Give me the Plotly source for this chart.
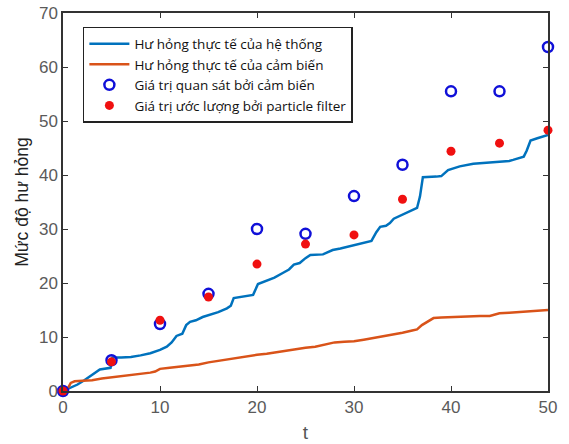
import plotly.graph_objects as go

# System true damage (blue line)
sys_t = [0, 0.7, 1.5, 2.2, 2.8, 3.3, 3.8, 4.9, 5.1, 6, 7, 8, 9, 10, 10.7, 11.2, 11.7, 12.3, 12.7, 13.1,
         13.7, 14.4, 15.2, 16, 16.9, 17.3, 17.6, 18.5, 19.6, 20.1, 21, 21.8, 22.7, 23.3, 23.8, 24.4, 25.0,
         25.5, 26.8, 27.2, 27.8, 28.6, 29.6, 30.4, 31.3, 31.8, 32.3, 32.7, 33.3, 33.7, 34.1, 34.6, 35.5,
         36.0, 36.5, 36.8, 37.1, 38.5, 39.0, 39.7, 40.3, 40.9, 42.3, 44, 46, 46.4, 47.0, 47.5, 47.8, 48.2,
         48.9, 50]
sys_v = [0, 0.5, 1.2, 2.0, 2.8, 3.5, 4.0, 4.3, 6.2, 6.2, 6.3, 6.6, 7.0, 7.6, 8.2, 9.0, 10.2, 10.6, 12.2, 12.8,
         13.1, 13.7, 14.1, 14.6, 15.3, 15.8, 17.2, 17.5, 17.8, 19.8, 20.5, 21.0, 21.9, 22.5, 23.4, 23.7, 24.6,
         25.2, 25.3, 25.6, 26.1, 26.4, 26.8, 27.2, 27.6, 27.8, 29.4, 30.4, 30.6, 31.1, 31.9, 32.3, 33.0,
         33.4, 33.9, 36.0, 39.6, 39.7, 39.8, 40.9, 41.2, 41.6, 42.1, 42.3, 42.6, 42.8, 43.2, 43.4, 44.5, 46.4,
         46.8, 47.4]

# Sensor true damage (orange line)
sen_t = [0, 0.5, 0.8, 1.2, 2, 3, 4, 5, 6, 7, 8, 9, 9.5, 10, 11, 12, 13, 14, 15, 16, 17, 18, 19, 20, 21, 22,
         23, 24, 25, 26, 27, 28, 29, 30, 31, 32, 33, 34, 35, 36, 36.5, 37, 37.5, 38.2, 39, 40, 41, 42, 43, 44,
         44.5, 45, 46, 47, 48, 49, 50]
sen_v = [0, 0.5, 1.5, 1.8, 1.9, 2.0, 2.3, 2.5, 2.8, 3.0, 3.2, 3.4, 3.6, 4.1, 4.3, 4.5, 4.7, 4.9, 5.3, 5.6, 5.8,
         6.1, 6.4, 6.7, 6.9, 7.2, 7.5, 7.7, 8.0, 8.2, 8.6, 9.0, 9.1, 9.2, 9.5, 9.8, 10.2, 10.5, 10.8, 11.2, 11.4,
         12.2, 12.7, 13.5, 13.6, 13.7, 13.8, 13.85, 13.9, 13.9, 14.2, 14.4, 14.5, 14.6, 14.75, 14.9, 15.0]

# Observations and estimates
obs_t = [0, 5, 10, 15, 20, 25, 30, 35, 40, 45, 50]
obs_v = [0, 5.7, 12.4, 18.0, 30.0, 29.1, 36.1, 41.9, 55.5, 55.5, 63.7]
est_v = [0, 5.4, 13.1, 17.4, 23.5, 27.2, 28.9, 35.5, 44.4, 45.9, 48.3]

names = ["Hư hỏng thực tế của hệ thống", "Hư hỏng thực tế của cảm biến",
         "Giá trị quan sát bởi cảm biến", "Giá trị ước lượng bởi particle filter"]

fig = go.Figure()
fig.add_trace(go.Scatter(x=sys_t, y=sys_v, mode="lines", name=names[0],
                         line=dict(color="#0072BD", width=2.5)))
fig.add_trace(go.Scatter(x=sen_t, y=sen_v, mode="lines", name=names[1],
                         line=dict(color="#D95319", width=2.5)))
fig.add_trace(go.Scatter(x=obs_t, y=obs_v, mode="markers", name=names[2], cliponaxis=False,
                         marker=dict(symbol="circle-open", size=10, color="#1010d8",
                                     line=dict(width=2.5, color="#1010d8"))))
fig.add_trace(go.Scatter(x=obs_t, y=est_v, mode="markers", name=names[3], cliponaxis=False,
                         marker=dict(symbol="circle", size=9, color="#f01010")))

axis_common = dict(showline=True, linecolor="#333333", linewidth=1.5, mirror="allticks",
                   ticks="inside", ticklen=5, tickcolor="#333333", showgrid=False, zeroline=False,
                   automargin=False, ticklabeloverflow="allow",
                   tickfont=dict(family="Liberation Sans, Arial", size=17, color="#5a5a5a"))

fig.update_layout(
    width=569, height=444,
    margin=dict(l=63, r=21, t=13, b=53),
    paper_bgcolor="white", plot_bgcolor="white",
    showlegend=True,
    legend=dict(x=0.041, y=0.963, xanchor="left", yanchor="top",
                bordercolor="#222222", borderwidth=1.5, bgcolor="white",
                font=dict(family="Open Sans, Noto Sans", size=13.5, color="#111111"),
                itemwidth=40, tracegroupgap=0),
    xaxis=dict(range=[0, 50], tickvals=[0, 10, 20, 30, 40, 50],
               title=dict(text="t", font=dict(family="Liberation Sans, Arial", size=19, color="#555555"),
                          standoff=10),
               **axis_common),
    yaxis=dict(range=[0, 70], tickvals=[0, 10, 20, 30, 40, 50, 60, 70],
               title=dict(text="Mức độ hư hỏng", font=dict(family="Liberation Sans, Arial", size=17.5, color="#222222"),
                          standoff=6),
               **axis_common),
)

fig.write_html("out.html", config={"displayModeBar": False},
               post_script="document.body.style.margin='0';document.body.style.overflow='hidden';")
